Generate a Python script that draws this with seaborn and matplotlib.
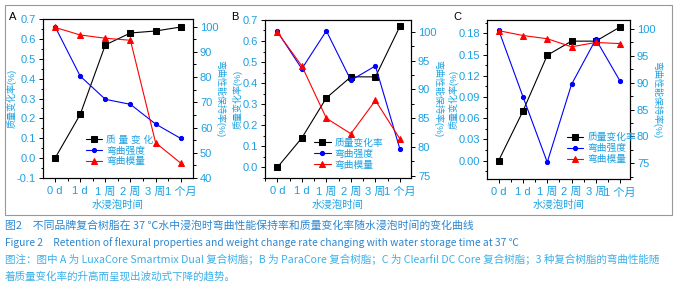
import matplotlib
matplotlib.use("Agg")
import matplotlib.pyplot as plt
import seaborn as sns
import numpy as np
from matplotlib.ticker import MultipleLocator, AutoMinorLocator, FormatStrFormatter
from matplotlib.patches import Rectangle

sns.set_style("ticks")
plt.rcParams['font.family'] = ['Liberation Sans', 'Noto Sans CJK SC']
plt.rcParams['axes.unicode_minus'] = False

times = ['0 d', '1 d', '1 周', '2 周', '3 周', '1 个月']

# A: LuxaCore Smartmix Dual
a_mass = [0.00, 0.22, 0.57, 0.63, 0.64, 0.66]
a_strength = [100.0, 80.4, 71.2, 69.2, 61.4, 55.7]
a_modulus = [99.7, 96.7, 95.4, 94.6, 54.0, 45.9]

# B: ParaCore
b_mass = [0.00, 0.14, 0.33, 0.43, 0.43, 0.67]
b_strength = [100.1, 93.6, 100.2, 91.6, 94.1, 79.6]
b_modulus = [100.0, 94.1, 85.0, 82.3, 88.1, 81.4]

# C: Clearfil DC Core
c_mass = [0.00, 0.07, 0.149, 0.169, 0.169, 0.189]
c_strength = [99.8, 87.4, 75.2, 89.7, 98.1, 90.3]
c_modulus = [99.7, 98.8, 98.2, 96.7, 97.5, 97.3]

cyan = '#1ba1e2'

fig = plt.figure(figsize=(6.74, 2.89), dpi=100)

panels = [
    dict(letter='A', rect=[0.0638, 0.384, 0.2226, 0.550], mass=a_mass, st=a_strength, mo=a_modulus,
         ylim=(-0.1, 0.7), yticks=np.arange(-0.1, 0.71, 0.1), fmt='%.1f',
         y2lim=(40, 103), y2step=10, xlim=(-0.48, 5.49), mlabel='质 量 变 化',
         leg=(0.24, 0.03)),
    dict(letter='B', rect=[0.3932, 0.384, 0.2166, 0.547], mass=b_mass, st=b_strength, mo=b_modulus,
         ylim=(-0.05, 0.7), yticks=np.arange(0.0, 0.71, 0.1), fmt='%.1f',
         y2lim=(74.6, 102.1), y2step=5, xlim=(-0.5, 5.45), mlabel='质量变化率',
         leg=(0.29, 0.01)),
    dict(letter='C', rect=[0.7226, 0.381, 0.2122, 0.550], mass=c_mass, st=c_strength, mo=c_modulus,
         ylim=(-0.026, 0.199), yticks=np.arange(0.0, 0.181, 0.03), fmt='%.2f',
         y2lim=(72.1, 101.7), y2step=5, xlim=(-0.48, 5.41), mlabel='质量变化率',
         leg=(0.51, 0.05)),
]

x = np.arange(len(times))
for p in panels:
    ax = fig.add_axes(p['rect'])
    ax2 = ax.twinx()
    sns.lineplot(x=x, y=p['mass'], ax=ax, color='black', marker='s', markersize=4.5,
                 markeredgecolor='black', linewidth=0.8, label=p['mlabel'], legend=False)
    sns.lineplot(x=x, y=p['st'], ax=ax2, color='blue', marker='o', markersize=3,
                 markeredgecolor='blue', linewidth=0.8, label='弯曲强度', legend=False)
    sns.lineplot(x=x, y=p['mo'], ax=ax2, color='red', marker='^', markersize=4,
                 markeredgecolor='red', linewidth=0.8, label='弯曲模量', legend=False)

    ax.set_xlim(*p['xlim'])
    ax.set_xticks(x)
    ax.set_xticklabels(times)
    ax.xaxis.set_minor_locator(MultipleLocator(0.5))
    ax.set_ylim(*p['ylim'])
    ax.set_yticks(p['yticks'])
    ax.yaxis.set_major_formatter(FormatStrFormatter(p['fmt']))
    ax.yaxis.set_minor_locator(AutoMinorLocator(2))
    ax2.set_ylim(*p['y2lim'])
    ax2.yaxis.set_major_locator(MultipleLocator(p['y2step']))
    ax2.yaxis.set_minor_locator(AutoMinorLocator(2))

    for a in (ax, ax2):
        a.tick_params(which='both', direction='out', colors='black', labelcolor=cyan,
                      labelsize=8, width=0.7, pad=2)
        a.tick_params(which='major', length=3)
        a.tick_params(which='minor', length=1.8)
        for s in a.spines.values():
            s.set_visible(True)
            s.set_color('black')
            s.set_linewidth(0.8)
    ax.tick_params(axis='x', labelsize=8, pad=3)

    ax.set_xlabel('水浸泡时间', color=cyan, fontsize=7.5, labelpad=2)
    ax.set_ylabel('质量变化率(%)', color=cyan, fontsize=6.5, labelpad=0)
    ax2.set_ylabel('弯曲性能保持率(%)', color=cyan, fontsize=6.5, rotation=270, labelpad=5)

    h1, l1 = ax.get_legend_handles_labels()
    h2, l2 = ax2.get_legend_handles_labels()
    leg = ax2.legend(h1 + h2, l1 + l2, loc='lower left', bbox_to_anchor=p['leg'],
                     frameon=False, fontsize=7, handlelength=1.7, handletextpad=0.4,
                     labelspacing=0.1, borderpad=0.2)
    for t in leg.get_texts():
        t.set_color(cyan)

    fig.text(p['rect'][0] - 0.05, 0.94, p['letter'], fontsize=8, color='black', va='center')

fig.patches.append(Rectangle((5 / 674, 1 - 215 / 289), 667 / 674, 210 / 289,
                             transform=fig.transFigure, fill=False,
                             edgecolor='#999999', linewidth=0.8))

caption1 = '图2　不同品牌复合树脂在 37 ℃水中浸泡时弯曲性能保持率和质量变化率随水浸泡时间的变化曲线'
caption2 = 'Figure 2　Retention of flexural properties and weight change rate changing with water storage time at 37 ℃'
caption3 = '图注：图中 A 为 LuxaCore Smartmix Dual 复合树脂；B 为 ParaCore 复合树脂；C 为 Clearfil DC Core 复合树脂；3 种复合树脂的弯曲性能随'
caption4 = '着质量变化率的升高而呈现出波动式下降的趋势。'

cap_font = ['Noto Sans CJK SC', 'DejaVu Sans']
fig.text(5 / 674, 1 - 225 / 289, caption1, fontsize=7.8, color='#2c86d0', va='center', family=cap_font)
fig.text(5 / 674, 1 - 243 / 289, caption2, fontsize=7.4, color='#2c86d0', va='center', family=cap_font)
fig.text(5 / 674, 1 - 260 / 289, caption3, fontsize=7.6, color='#3ab0e8', va='center', family=cap_font)
fig.text(5 / 674, 1 - 276 / 289, caption4, fontsize=7.6, color='#3ab0e8', va='center', family=cap_font)

plt.savefig('out.png', dpi=100)
plt.close()
